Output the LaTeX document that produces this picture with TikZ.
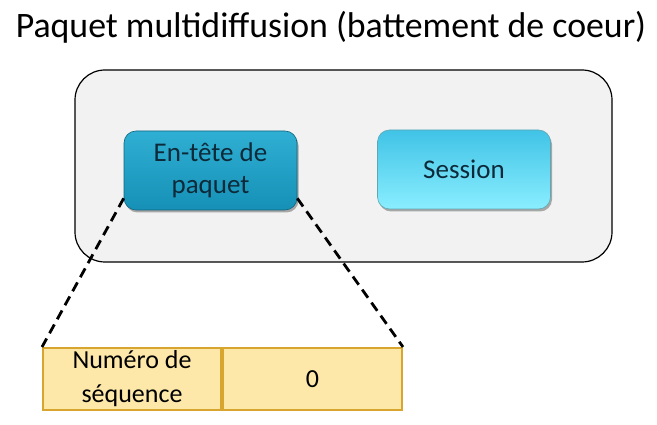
\documentclass[tikz,border=0pt]{standalone}
\usepackage{fontspec}
\setmainfont{Carlito}
\usetikzlibrary{calc,shadows,positioning}
\definecolor{outerfill}{HTML}{F2F2F2}
\definecolor{hdrtop}{HTML}{2FAFD3}
\definecolor{hdrbot}{HTML}{1690B6}
\definecolor{sestop}{HTML}{40C3E6}
\definecolor{sesbot}{HTML}{8AEEFF}
\definecolor{fieldfill}{HTML}{FDE8A9}
\definecolor{fieldline}{HTML}{D8A52E}
\definecolor{txtdark}{HTML}{0D2A3A}
\tikzset{
  btn/.style={rounded corners=12pt, minimum width=173pt, minimum height=79pt,
    align=center, font=\fontsize{27}{32}\selectfont, text=txtdark,
    draw=#1!70!black, line width=0.6pt,
    drop shadow={shadow xshift=1.5pt, shadow yshift=-2.5pt, opacity=0.45, fill=black!70}},
  field/.style={draw=fieldline, fill=fieldfill, line width=2pt, minimum height=62pt,
    inner sep=0pt, align=center, font=\fontsize{26}{34}\selectfont},
  zoomline/.style={dashed, dash pattern=on 10pt off 6pt, line width=2.8pt, black}
}
\begin{document}
\begin{tikzpicture}[x=1pt,y=-1pt]
\useasboundingbox (0,0) rectangle (657,425);
\node (title) at (331,27) {\fontsize{35.8}{40}\selectfont Paquet multidiffusion (battement de coeur)};
\node (outer) [draw=black, line width=1.2pt, fill=outerfill, rounded corners=30pt,
  minimum width=537pt, minimum height=192pt, inner sep=0pt] at (343.5,166) {};
\node (hdr) [btn=hdrbot, top color=hdrtop, bottom color=hdrbot] at (210.5,170.5) {En-tête de\\paquet};
\node (ses) [btn=sesbot, top color=sestop, bottom color=sesbot] at (464,169.5) {Session};
\node (f1) [field, minimum width=178pt] at (132,379) {Numéro de\\séquence};
\node (f2) [field, minimum width=179pt, anchor=west] at (f1.east) {0};
\coordinate (hl) at ($(hdr.south west)+(0,-12)$);
\coordinate (hr) at ($(hdr.south east)+(0,-12)$);
\draw[zoomline] (hl) -- (f1.north west);
\draw[zoomline] (hr) -- (f2.north east);
\end{tikzpicture}
\end{document}
